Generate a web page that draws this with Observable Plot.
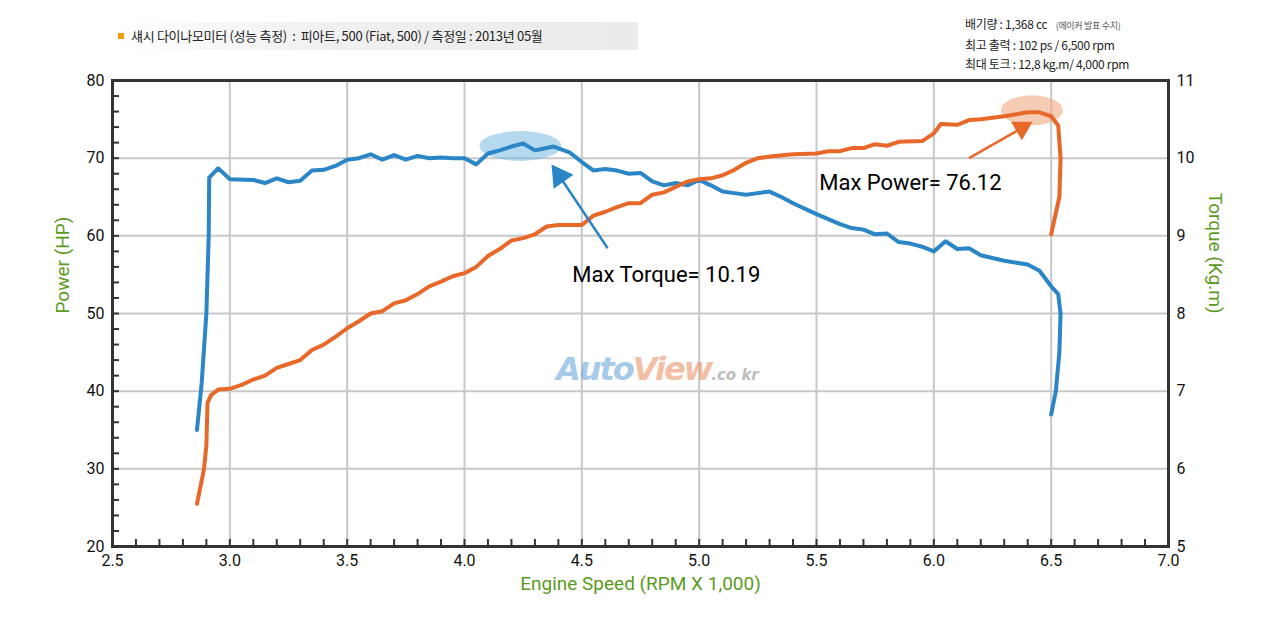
<!DOCTYPE html>
<html><head><meta charset="utf-8">
<script src="https://cdn.jsdelivr.net/npm/d3@7"></script>
<script src="https://cdn.jsdelivr.net/npm/@observablehq/plot@0.6"></script>
<style>
body{margin:0;background:#fff;font-family:"Noto Sans CJK KR","Roboto",sans-serif;}
#wrap{position:relative;width:1280px;height:620px;}
.hdr{position:absolute;left:110px;top:22px;width:528px;height:28px;background:linear-gradient(90deg,#fff,#f0f0f0 40%,#ebebeb);font-size:13px;line-height:28px;color:#222;letter-spacing:-0.3px}
.hdr span.sq{display:inline-block;width:6px;height:6px;background:#f2a000;margin:0 7px 2px 8px;vertical-align:middle}
.info{position:absolute;left:965px;top:14px;font-size:12px;line-height:19px;color:#222;letter-spacing:-0.3px}
.info small{font-size:9px;color:#555;margin-left:6px}
.wm{position:absolute;left:556px;top:350px;font-family:"DejaVu Sans",sans-serif;font-weight:bold;font-style:italic;font-size:32px;letter-spacing:-2px;opacity:.55}
</style></head><body>
<div id="wrap">
<div class="hdr"><span class="sq"></span>섀시 다이나모미터 (성능 측정) &nbsp;:&nbsp; 피아트, 500 (Fiat, 500) / 측정일 : 2013년 05월</div>
<div class="info">배기량 : 1,368 cc <small>(메이커 발표 수치)</small><br>최고 출력 : 102 ps / 6,500 rpm<br>최대 토크 : 12,8 kg.m/ 4,000 rpm</div>
<div id="chart"></div>
<div class="wm"><span style="color:#5f9fd8">Auto</span><span style="color:#e88a5a">View</span><span style="color:#888;font-size:15px;letter-spacing:0">.co kr</span></div>
</div>
<script>
const torqueRpm = [2.86,2.88,2.90,2.91,2.912,2.95,3.0,3.1,3.15,3.2,3.25,3.3,3.35,3.4,3.45,3.5,3.55,3.6,3.65,3.7,3.75,3.8,3.85,3.9,3.95,4.0,4.05,4.1,4.15,4.2,4.25,4.3,4.35,4.38,4.45,4.5,4.55,4.6,4.65,4.7,4.75,4.8,4.85,4.9,4.95,5.0,5.05,5.1,5.15,5.2,5.25,5.3,5.35,5.4,5.5,5.6,5.65,5.7,5.75,5.8,5.85,5.9,5.95,6.0,6.05,6.1,6.15,6.2,6.3,6.4,6.45,6.5,6.53,6.54,6.535,6.52,6.5];
const torqueKgm = [6.5,7.1,8.0,9.0,9.75,9.87,9.73,9.72,9.68,9.74,9.69,9.71,9.84,9.85,9.9,9.98,10.0,10.05,9.98,10.04,9.98,10.03,10.0,10.01,10.0,10.0,9.92,10.06,10.1,10.15,10.19,10.1,10.13,10.15,10.07,9.95,9.84,9.86,9.84,9.8,9.81,9.7,9.65,9.68,9.65,9.72,9.65,9.57,9.55,9.53,9.55,9.57,9.5,9.42,9.28,9.15,9.1,9.08,9.02,9.03,8.92,8.9,8.86,8.8,8.93,8.83,8.84,8.75,8.68,8.63,8.55,8.35,8.25,8.0,7.5,7.0,6.7];
const powerRpm = [2.86,2.89,2.90,2.905,2.92,2.95,3.0,3.05,3.1,3.15,3.2,3.25,3.3,3.35,3.4,3.45,3.5,3.55,3.6,3.65,3.7,3.75,3.8,3.85,3.9,3.95,4.0,4.05,4.1,4.15,4.2,4.25,4.3,4.35,4.4,4.5,4.55,4.6,4.65,4.7,4.75,4.8,4.85,4.9,4.95,5.0,5.05,5.1,5.15,5.2,5.25,5.3,5.4,5.5,5.55,5.6,5.65,5.7,5.75,5.8,5.85,5.95,6.0,6.03,6.1,6.15,6.2,6.3,6.4,6.45,6.5,6.53,6.54,6.535,6.5];
const powerHp = [25.5,30,33,38.5,39.5,40.2,40.3,40.8,41.5,42,43,43.5,44,45.3,46,47,48.1,49,50,50.3,51.3,51.7,52.5,53.5,54.1,54.8,55.2,56,57.4,58.3,59.4,59.7,60.2,61.2,61.4,61.4,62.6,63.1,63.7,64.2,64.2,65.3,65.6,66.3,67.0,67.3,67.4,67.8,68.5,69.4,70,70.2,70.5,70.6,70.9,70.9,71.3,71.3,71.8,71.6,72.1,72.2,73.2,74.4,74.3,74.9,75.0,75.4,75.9,75.9,75.4,74.2,70,65,60.2];
const xTicks = [2.5,3.0,3.5,4.0,4.5,5.0,5.5,6.0,6.5,7.0];
const powerTicks = [20,30,40,50,60,70,80];

const toP = t => 20 + (t - 5) * 10;
const torque = torqueRpm.map((x,i)=>({x, y: toP(torqueKgm[i])}));
const power = powerRpm.map((x,i)=>({x, y: powerHp[i]}));
const blue = "#2a86c6", orange = "#e8682a", green = "#5b9a1e";

function ellipse(cx, cy, rx, ry, fill){
  return (index, {x, y}) => {
    const e = document.createElementNS("http://www.w3.org/2000/svg","ellipse");
    e.setAttribute("cx", x(cx)); e.setAttribute("cy", y(cy));
    e.setAttribute("rx", rx); e.setAttribute("ry", ry); e.setAttribute("fill", fill);
    return e;
  };
}

const chart = Plot.plot({
  width: 1280, height: 620,
  marginTop: 80, marginBottom: 74, marginLeft: 112, marginRight: 112,
  style: {fontFamily: "Roboto, sans-serif", fontSize: "16px", color: "#111", background: "transparent"},
  x: {domain: [2.5, 7.0]},
  y: {domain: [20, 80]},
  marks: [
    Plot.gridX(xTicks.slice(1,-1), {stroke: "#c8c8c8", strokeOpacity: 1, strokeWidth: 2}),
    Plot.gridY(powerTicks.slice(1,-1), {stroke: "#c8c8c8", strokeOpacity: 1, strokeWidth: 2}),
    Plot.axisX(d3.range(25, 71).map(d => d/10), {tickSize: -7, text: null, stroke: "#333", strokeWidth: 2}),
    Plot.axisY(d3.range(20, 81, 2), {tickSize: -7, text: null, stroke: "#333", strokeWidth: 2}),
    Plot.axisX(xTicks, {tickSize: 0, tickPadding: 8, tickFormat: d3.format(".1f"), label: null, fontSize: 16}),
    Plot.axisY(powerTicks, {tickSize: 0, tickPadding: 8, label: null, fontSize: 16}),
    Plot.axisY(powerTicks, {anchor: "right", tickSize: 0, tickPadding: 8, tickFormat: d => (d-20)/10+5, label: null, fontSize: 16}),
    ellipse(4.24, 71.5, 41, 15, "rgba(120,185,225,0.55)"),
    ellipse(6.42, 76.1, 31, 15, "rgba(240,170,130,0.6)"),
    Plot.line(torque, {x: "x", y: "y", stroke: blue, strokeWidth: 4}),
    Plot.line(power, {x: "x", y: "y", stroke: orange, strokeWidth: 4}),
    Plot.link([{x1: 4.61, y1: 58.4, x2: 4.42, y2: 67.0}], {x1:"x1",y1:"y1",x2:"x2",y2:"y2", stroke: blue, strokeWidth: 2.5}),
    Plot.dot([{x: 4.405, y: 67.7}], {x:"x", y:"y", symbol: "triangle", r: 9, fill: blue, rotate: -35}),
    Plot.link([{x1: 6.15, y1: 70.0, x2: 6.36, y2: 73.6}], {x1:"x1",y1:"y1",x2:"x2",y2:"y2", stroke: orange, strokeWidth: 2.5}),
    Plot.dot([{x: 6.375, y: 73.9}], {x:"x", y:"y", symbol: "triangle", r: 8, fill: orange, rotate: 60}),
    Plot.text(["Max Torque= 10.19"], {x: 4.86, y: 54.9, fontSize: 22, fill: "#000"}),
    Plot.text(["Max Power= 76.12"], {x: 5.9, y: 66.8, fontSize: 22, fill: "#000"}),
    Plot.frame({stroke: "#333", strokeWidth: 3}),
    Plot.text(["Engine Speed (RPM X 1,000)"], {frameAnchor: "bottom", dy: 43, fontSize: 19, fill: green}),
    Plot.text(["Power (HP)"], {frameAnchor: "left", dx: -50, rotate: -90, fontSize: 19, fill: green}),
    Plot.text(["Torque (Kg.m)"], {frameAnchor: "right", dx: 47, rotate: 90, fontSize: 19, fill: green})
  ]
});
document.getElementById("chart").append(chart);
</script>
</body></html>
